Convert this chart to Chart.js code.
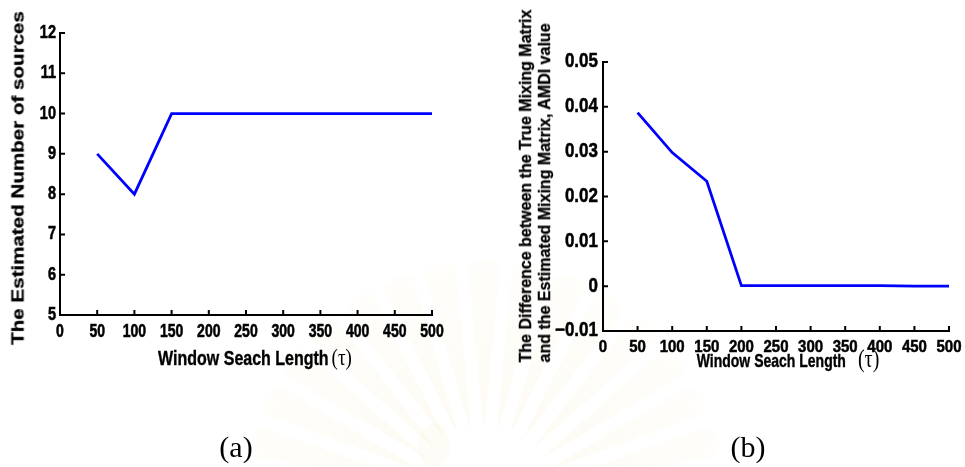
<!DOCTYPE html>
<html>
<head>
<meta charset="utf-8">
<script src="https://cdn.jsdelivr.net/npm/chart.js@4.4.1/dist/chart.umd.min.js"></script>
<style>
  html, body { margin: 0; padding: 0; background: #fff; }
  #stage { position: relative; width: 965px; height: 467px; overflow: hidden; background: #fff; }
  canvas { position: absolute; left: 0; top: 0; }
  .lbl {
    position: absolute; white-space: nowrap; color: #000; line-height: 1;
    font-family: 'Liberation Sans', Arial, Helvetica, sans-serif; font-weight: bold;
    -webkit-text-stroke: 0.3px #000;
  }
  .tau { font-family: 'Liberation Serif', 'DejaVu Serif', serif; font-weight: normal; -webkit-text-stroke: 0; }
  .cap {
    position: absolute; color: #000; line-height: 1; white-space: nowrap;
    font-family: 'Liberation Serif', 'DejaVu Serif', serif; font-size: 30px;
    transform: translate(-50%, -50%);
  }
</style>
</head>
<body>
<div id="stage">
  <canvas id="emblem" width="965" height="467"></canvas>
  <canvas id="chartA" width="965" height="467"></canvas>
  <canvas id="chartB" width="965" height="467"></canvas>

  <div class="lbl" style="left:18px; top:178px; font-size:17px; transform:translate(-50%,-50%) rotate(-90deg) scaleX(1.21);">The Estimated Number of sources</div>
  <div class="lbl" style="left:255px; top:357px; font-size:16px; transform:translate(-50%,-50%) scaleY(1.25);">Window Seach Length<span class="tau" style="font-size:19px; margin-left:3px;">(τ)</span></div>

  <div class="lbl" style="left:535px; top:186px; font-size:16px; line-height:19px; text-align:left; transform:translate(-50%,-50%) rotate(-90deg);">The Difference between the True Mixing Matrix<br>and the Estimated Mixing Matrix, AMDI value</div>
  <div class="lbl" style="left:788px; top:358px; font-size:14px; transform:translate(-50%,-50%) scaleY(1.3);">Window Seach Length<span class="tau" style="font-size:20px; margin-left:12px;">(τ)</span></div>

  <div class="cap" style="left:236px; top:447px;">(a)</div>
  <div class="cap" style="left:748px; top:447px;">(b)</div>
</div>

<script>
// Window search lengths (tau) shared by both panels
const windowLengths = [50, 100, 150, 200, 250, 300, 350, 400, 450, 500];
// Panel (a): estimated number of sources
const estimatedSources = [9, 8, 10, 10, 10, 10, 10, 10, 10, 10];
// Panel (b): AMDI between true and estimated mixing matrix
const amdiValues = [0.0387, 0.0298, 0.0234, 0.0001, 0.0001, 0.0001, 0.0001, 0.0001, 0.0000, 0.0000];

// Tick labels
const xTickLabels = ['0', '50', '100', '150', '200', '250', '300', '350', '400', '450', '500'];
const yTickLabelsA = ['5', '6', '7', '8', '9', '10', '11', '12'];
const yTickLabelsB = ['\u22120.01', '0', '0.01', '0.02', '0.03', '0.04', '0.05'];

const TICK_FAMILY = "'Liberation Sans', Arial, Helvetica, sans-serif";

// Short tick marks pointing into the plot area (box-off style axes)
const inwardTicks = {
  id: 'inwardTicks',
  afterDraw(chart, args, opts) {
    const ctx = chart.ctx;
    const xs = chart.scales.x, ys = chart.scales.y;
    const area = chart.chartArea;
    const len = opts.length || 5;
    ctx.save();
    ctx.strokeStyle = '#000';
    ctx.lineWidth = 2;
    ctx.beginPath();
    xs.ticks.forEach(t => {
      const px = xs.getPixelForValue(t.value);
      ctx.moveTo(px, area.bottom);
      ctx.lineTo(px, area.bottom - len);
    });
    ys.ticks.forEach(t => {
      const py = ys.getPixelForValue(t.value);
      ctx.moveTo(area.left, py);
      ctx.lineTo(area.left + len, py);
    });
    ctx.stroke();
    ctx.restore();
  }
};

// Tick numbers in a tall, narrow bold face, placed from the scales' own tick positions
const tallTickLabels = {
  id: 'tallTickLabels',
  afterDraw(chart, args, o) {
    const ctx = chart.ctx;
    const xs = chart.scales.x, ys = chart.scales.y;
    const area = chart.chartArea;
    ctx.save();
    ctx.fillStyle = '#000';
    ctx.strokeStyle = '#000';
    ctx.lineWidth = 0.45;
    ctx.textBaseline = 'middle';

    const put = (text, x, y, stretch) => {
      ctx.save();
      ctx.translate(x, y);
      ctx.scale(1, stretch);
      ctx.fillText(text, 0, 0);
      ctx.strokeText(text, 0, 0);
      ctx.restore();
    };

    ctx.font = `bold ${o.xFont}px ${TICK_FAMILY}`;
    ctx.textAlign = 'center';
    xs.ticks.forEach((t, i) => put(o.xLabels[i], xs.getPixelForValue(t.value), area.bottom + o.xOffset, o.xStretch));

    ctx.font = `bold ${o.yFont}px ${TICK_FAMILY}`;
    ctx.textAlign = 'right';
    ys.ticks.forEach((t, i) => put(o.yLabels[i], area.left - o.yGap, ys.getPixelForValue(t.value), o.yStretch));
    ctx.restore();
  }
};

function makeChart(id, values, cfg) {
  return new Chart(document.getElementById(id), {
    type: 'line',
    data: {
      datasets: [{
        data: windowLengths.map((x, i) => ({ x, y: values[i] })),
        borderColor: '#0000ff',
        borderWidth: 2.8,
        pointRadius: 0,
        tension: 0,
        fill: false
      }]
    },
    options: {
      responsive: false,
      animation: false,
      events: [],
      layout: { padding: cfg.padding },
      plugins: {
        legend: { display: false },
        tooltip: { enabled: false },
        inwardTicks: { length: 5 },
        tallTickLabels: cfg.labels
      },
      scales: {
        x: {
          type: 'linear', min: 0, max: 500,
          ticks: { stepSize: 50, autoSkip: false, display: false },
          grid: { display: false, drawTicks: false },
          border: { display: true, color: '#000', width: 2 },
          afterFit: s => { s.height = cfg.xHeight; }
        },
        y: {
          min: cfg.yMin, max: cfg.yMax,
          ticks: { stepSize: cfg.yStep, autoSkip: false, display: false },
          grid: { display: false, drawTicks: false },
          border: { display: true, color: '#000', width: 2 },
          afterFit: s => { s.width = cfg.yWidth; }
        }
      }
    },
    plugins: [inwardTicks, tallTickLabels]
  });
}

makeChart('chartA', estimatedSources, {
  padding: { left: 0, top: 33, right: 533, bottom: 0 },
  xHeight: 152, yWidth: 60,
  yMin: 5, yMax: 12, yStep: 1,
  labels: {
    xLabels: xTickLabels, yLabels: yTickLabelsA,
    xFont: 14, xStretch: 1.25, xOffset: 17,
    yFont: 14.5, yStretch: 1.25, yGap: 4
  }
});

makeChart('chartB', amdiValues, {
  padding: { left: 480, top: 62, right: 16, bottom: 0 },
  xHeight: 136, yWidth: 123,
  yMin: -0.01, yMax: 0.05, yStep: 0.01,
  labels: {
    xLabels: xTickLabels, yLabels: yTickLabelsB,
    xFont: 15, xStretch: 1.15, xOffset: 16,
    yFont: 17, yStretch: 1.15, yGap: 5
  }
});

// Faint emblem watermark behind the two panels
(function drawEmblem() {
  const c = document.getElementById('emblem').getContext('2d');
  const cx = 484, cy = 500;
  const g = c.createRadialGradient(cx, cy, 60, cx, cy, 240);
  g.addColorStop(0, 'rgba(236, 212, 130, 0.10)');
  g.addColorStop(1, 'rgba(236, 212, 130, 0.03)');
  c.fillStyle = g;
  for (let i = 0; i < 15; i++) {
    const a = Math.PI * (1.08 + i * 0.06);
    const w = Math.PI * 0.022;
    const r0 = 70, r1 = 235;
    c.beginPath();
    c.moveTo(cx + r0 * Math.cos(a), cy + r0 * Math.sin(a));
    c.lineTo(cx + r1 * Math.cos(a - w), cy + r1 * Math.sin(a - w));
    c.quadraticCurveTo(cx + (r1 + 12) * Math.cos(a), cy + (r1 + 12) * Math.sin(a),
                       cx + r1 * Math.cos(a + w), cy + r1 * Math.sin(a + w));
    c.closePath();
    c.fill();
  }
  c.beginPath();
  c.ellipse(cx - 50, 445, 16, 22, 0, 0, Math.PI * 2);
  c.fillStyle = 'rgba(236, 212, 130, 0.07)';
  c.fill();
})();
</script>
</body>
</html>
